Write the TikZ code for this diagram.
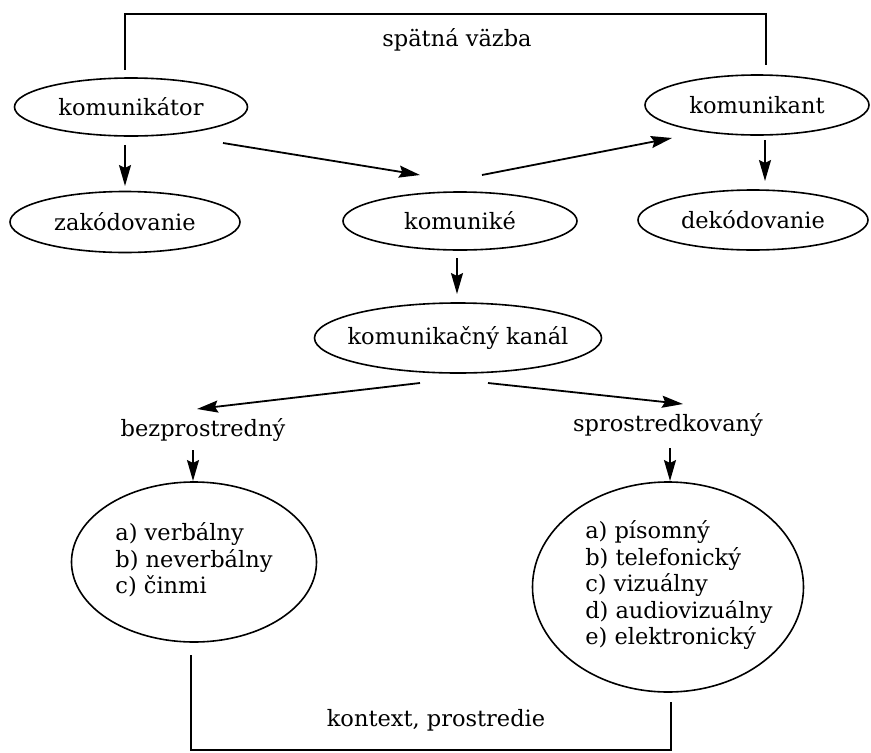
\documentclass[tikz,border=0pt]{standalone}
\usepackage{fontspec}
\setmainfont{DejaVu Serif}
\usetikzlibrary{shapes.geometric,arrows.meta}
\begin{document}
\begin{tikzpicture}[x=1pt,y=-1pt,
  lbl/.style={font=\fontsize{22.5}{26.5}\selectfont, inner sep=0pt},
  oval/.style={ellipse, draw, line width=1.6pt, inner sep=0pt, font=\fontsize{22.5}{26.5}\selectfont},
  conn/.style={line width=1.8pt, -{Stealth[length=21pt,width=12pt,inset=3pt]}},
  fb/.style={line width=1.5pt}
]
\useasboundingbox (0,0) rectangle (871,753);
% nodes
\node[lbl] (fbtext) at (457,40) {spätná väzba};
\node[oval, minimum width=233pt, minimum height=58pt] (kator) at (131,107) {komunikátor};
\node[oval, minimum width=230pt, minimum height=61pt] (zak) at (125,222) {zakódovanie};
\node[oval, minimum width=234pt, minimum height=58pt] (kke) at (460,221) {komuniké};
\node[oval, minimum width=224pt, minimum height=60pt] (kant) at (757,105) {komunikant};
\node[oval, minimum width=230pt, minimum height=60pt] (dek) at (753,220) {dekódovanie};
\node[oval, inner xsep=-25pt, minimum width=287pt, minimum height=70pt] (kanal) at (458,338) {komunikačný kanál};
\node[lbl] (bez) at (203,430) {bezprostredný};
\node[lbl] (spr) at (668,425) {sprostredkovaný};
\node[oval, minimum width=245pt, minimum height=160pt] (lov) at (194,562) {};
\node[lbl, align=left] (ltx) at (194,560) {a) verbálny\\ b) neverbálny\\ c) činmi};
\node[oval, minimum width=271pt, minimum height=210pt] (rov) at (668,587) {};
\node[lbl, align=left] (rtx) at (679,585) {a) písomný\\ b) telefonický\\ c) vizuálny\\ d) audiovizuálny\\ e) elektronický};
\node[lbl] (ctx) at (436,720) {kontext, prostredie};
% coordinates for connector ends
\coordinate (a1) at (223,143); \coordinate (a2) at (420,175);
\coordinate (b1) at (482,175); \coordinate (b2) at (672,138);
\coordinate (c1) at (420,383); \coordinate (c2) at (197,409);
\coordinate (d1) at (488,383); \coordinate (d2) at (683,404);
\coordinate (f1) at (125,70); \coordinate (f2) at (125,14);
\coordinate (f3) at (766,14); \coordinate (f4) at (766,65);
\coordinate (g1) at (191,655); \coordinate (g2) at (191,750);
\coordinate (g3) at (671,750); \coordinate (g4) at (671,702);
% connectors
\draw[conn] (kator.south -| zak.north) ++(0,8) -- (125,186);
\draw[conn] (a1) -- (a2);
\draw[conn] (b1) -- (b2);
\draw[conn] (765,140) -- (765,181);
\draw[conn] (457,258) -- (457,294);
\draw[conn] (c1) -- (c2);
\draw[conn] (d1) -- (d2);
\draw[conn] (193,450) -- (193,481);
\draw[conn] (670,448) -- (670,481);
\draw[fb] (f1) -- (f2) -- (f3) -- (f4);
\draw[fb] (g1) -- (g2) -- (g3) -- (g4);
\end{tikzpicture}
\end{document}
